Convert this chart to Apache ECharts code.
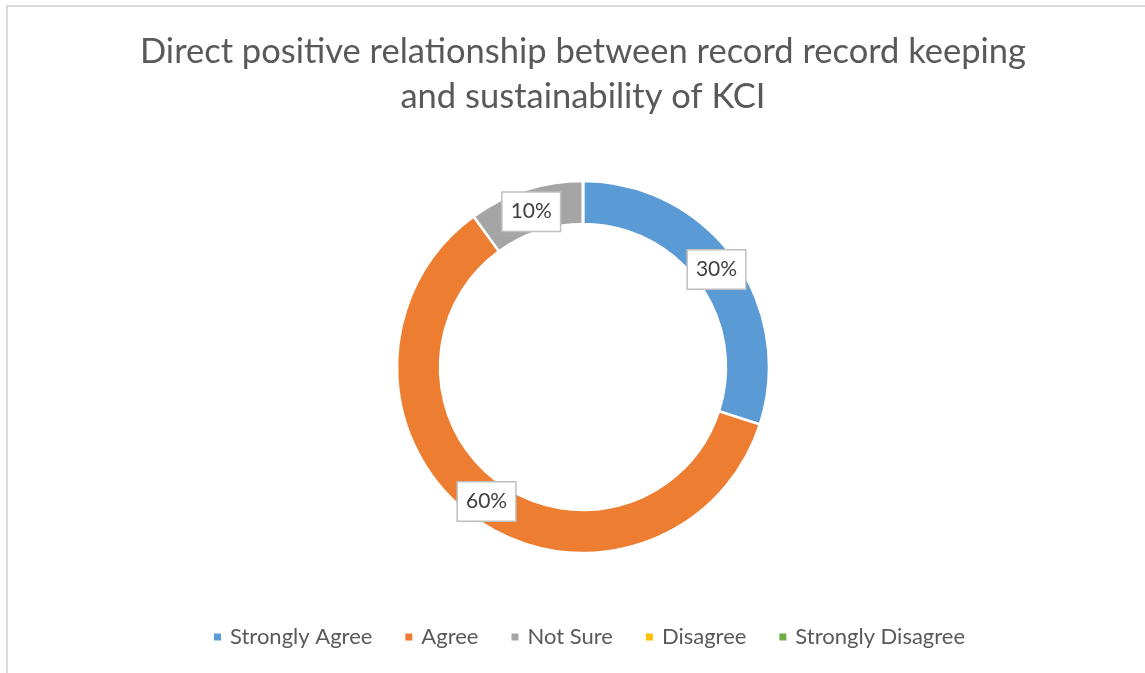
<!DOCTYPE html>
<html>
<head>
<meta charset="utf-8">
<script src="https://cdn.jsdelivr.net/npm/echarts@6/dist/echarts.min.js"></script>
<style>
  html, body { margin: 0; padding: 0; background: #fff; }
  .frame {
    position: absolute; left: 6px; top: 5px;
    width: 1200px; height: 700px;
    border-left: 2px solid #d9d9d9; border-top: 2px solid #d9d9d9;
  }
  #chart { position: absolute; left: 0; top: 0; width: 1145px; height: 673px; }
</style>
</head>
<body>
<div class="frame"></div>
<div id="chart"></div>
<script>
// answers and share of respondents (%)
const categories = ['Strongly Agree', 'Agree', 'Not Sure', 'Disagree', 'Strongly Disagree']
const shares = [30, 60, 10, 0, 0]
const colors = ['#5B9BD5', '#ED7D31', '#A5A5A5', '#FFC000', '#70AD47']

const chart = echarts.init(document.getElementById('chart'))

const pieData = categories.map((name, i) => {
  return {
    name: name,
    value: shares[i],
    label: { show: shares[i] > 0 } // 0% slices get no label
  }
})

// small nudges so the data labels sit where Excel put them
const labelNudge = [[-2, 1], [2, -1], [0, 4], [0, 0], [0, 0]]

const option = {
  color: colors,
  title: {
    text: 'Direct positive relationship between record record keeping\nand sustainability of KCI',
    left: 578,
    textAlign: 'center',
    top: 24,
    textStyle: {
      fontFamily: 'Lato',
      fontWeight: 'normal',
      fontSize: 34.5,
      lineHeight: 45,
      color: '#595959'
    }
  },
  legend: {
    bottom: 20,
    left: 207,
    icon: 'rect',
    itemWidth: 9,
    itemHeight: 9,
    itemGap: 31,
    textStyle: {
      fontFamily: 'Lato',
      fontSize: 22,
      color: '#595959',
      padding: [0, 0, 0, 3]
    }
  },
  series: [
    {
      type: 'pie',
      center: [583, 367],
      radius: [143, 186],
      startAngle: 90,
      clockwise: true,
      avoidLabelOverlap: false,
      itemStyle: {
        borderColor: '#fff',
        borderWidth: 2.5
      },
      label: {
        position: 'inside',
        formatter: '{c}%',
        fontFamily: 'Lato',
        fontSize: 21,
        color: '#404040',
        backgroundColor: '#fff',
        borderColor: '#bfbfbf',
        borderWidth: 1.5,
        padding: [9, 8, 8, 8]
      },
      labelLayout: params => {
        const n = labelNudge[params.dataIndex]
        return { dx: n[0], dy: n[1] }
      },
      emphasis: { disabled: true },
      data: pieData
    }
  ]
}

chart.setOption(option)
</script>
</body>
</html>
